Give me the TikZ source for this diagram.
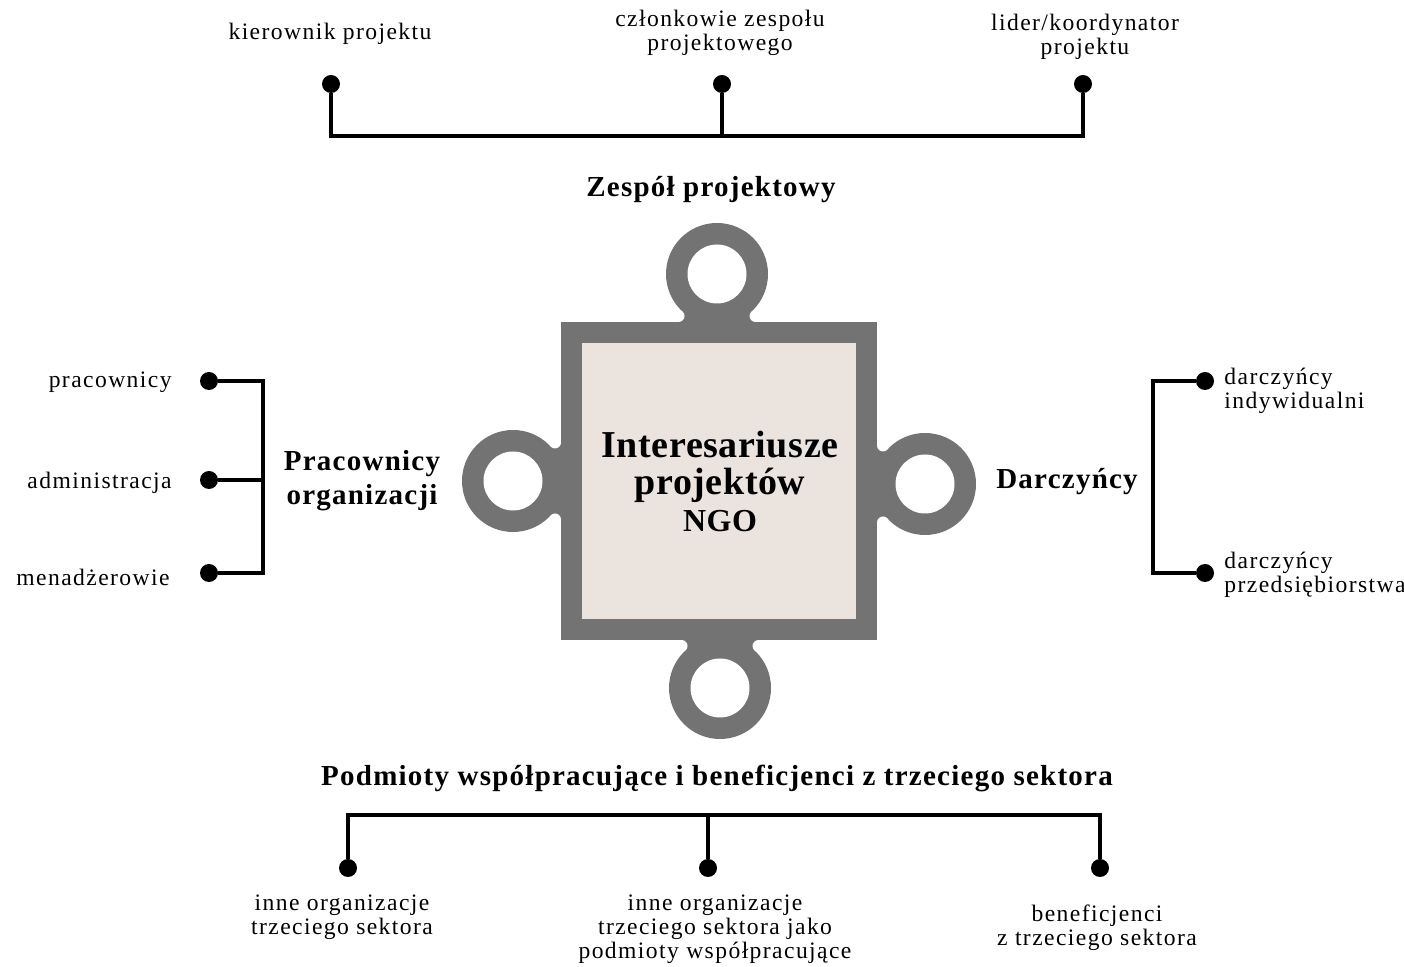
\documentclass[tikz,border=0pt]{standalone}
\usepackage{fontspec}
\setmainfont{Liberation Serif}[LetterSpace=6]
\newfontfamily\grpfont{Liberation Serif}[LetterSpace=4.3]
\newfontfamily\ngofont{Liberation Serif}[LetterSpace=1.5]
\definecolor{ringgray}{RGB}{115,115,115}
\definecolor{boxfill}{RGB}{235,227,222}

\tikzset{
  link/.style={line width=2pt,line join=miter},
  dot/.style={circle,fill,inner sep=0pt,minimum size=9pt},
  lbl/.style={font=\fontsize{11.8}{12}\selectfont,align=center,inner sep=0pt},
  grp/.style={font=\grpfont\bfseries\fontsize{14.5}{17}\selectfont,align=center,inner sep=0pt},
}

\begin{document}
\begin{tikzpicture}[x=0.5pt,y=-0.5pt]
\useasboundingbox (0,0) rectangle (1404,967);

\fill[ringgray] (561,322) rectangle (877,640);
\foreach \cx/\cy/\rot in {717/274/-90,720/688/90,513/481/0,925/484/180} {
  \begin{scope}[shift={(\cx,\cy)},rotate=\rot]
    \fill[ringgray] (0,0) circle[radius=51];
    \fill[ringgray] (0,0) -- (42,38.5) -- (48,38.5) -- (48,-38.5) -- (42,-38.5) -- cycle;
    \fill[white] (42,38.5) circle[radius=6] (42,-38.5) circle[radius=6];
    \fill[white] (0,0) circle[radius=29.5];
  \end{scope}
}
\fill[boxfill] (582,343) rectangle (856,619);
\node[font=\ngofont\bfseries\fontsize{19}{18.5}\selectfont,align=center] (ngo) at (720,481)
  {Interesariusze\\projektów\\{\fontsize{16}{18}\selectfont NGO}};

\node[grp] (zesp) at (711,190) {Zespół projektowy};
\node[grp] (prac) at (362,481) {Pracownicy\\organizacji};
\node[grp] (darcz) at (1067,482) {Darczyńcy};
\node[grp] (podm) at (717,778) {Podmioty współpracujące i beneficjenci z trzeciego sektora};

\node[lbl] (kier) at (330,34) {kierownik projektu};
\node[lbl] (czl) at (720,33) {członkowie zespołu\\projektowego};
\node[lbl] (lid) at (1085,37) {lider/koordynator\\projektu};
\node[dot] (t1) at (331,84) {};
\node[dot] (t2) at (722,84) {};
\node[dot] (t3) at (1083,84) {};
\coordinate (tb1) at (331,136);
\coordinate (tb3) at (1083,136);
\draw[link] (t1) -- (tb1) -- (tb3) -- (t3);
\draw[link] (t2) -- (t2 |- tb1);

\node[lbl,anchor=east] (pr) at (172,382) {pracownicy};
\node[lbl,anchor=east] (adm) at (172,483) {administracja};
\node[lbl,anchor=east] (men) at (170,577) {menadżerowie};
\node[dot] (l1) at (209,381) {};
\node[dot] (l2) at (209,480) {};
\node[dot] (l3) at (209,573) {};
\coordinate (lb1) at (263,381);
\coordinate (lb3) at (263,573);
\draw[link] (l1) -- (lb1) -- (lb3) -- (l3);
\draw[link] (l2) -- (l2 -| lb1);

\node[lbl,anchor=west,align=left] (ind) at (1224,391) {darczyńcy\\indywidualni};
\node[lbl,anchor=west,align=left] (przed) at (1224,575) {darczyńcy\\przedsiębiorstwa};
\node[dot] (r1) at (1205,381) {};
\node[dot] (r2) at (1205,573) {};
\coordinate (rb1) at (1153,381);
\coordinate (rb2) at (1153,573);
\draw[link] (r1) -- (rb1) -- (rb2) -- (r2);

\node[dot] (b1) at (348,868) {};
\node[dot] (b2) at (708,868) {};
\node[dot] (b3) at (1100,868) {};
\coordinate (bb1) at (348,815);
\coordinate (bb3) at (1100,815);
\draw[link] (b1) -- (bb1) -- (bb3) -- (b3);
\draw[link] (b2) -- (b2 |- bb1);
\node[lbl] (inne) at (342,917) {inne organizacje\\trzeciego sektora};
\node[lbl] (wsp) at (715,929) {inne organizacje\\trzeciego sektora jako\\podmioty współpracujące};
\node[lbl] (benef) at (1097,928) {beneficjenci\\z trzeciego sektora};
\end{tikzpicture}
\end{document}
